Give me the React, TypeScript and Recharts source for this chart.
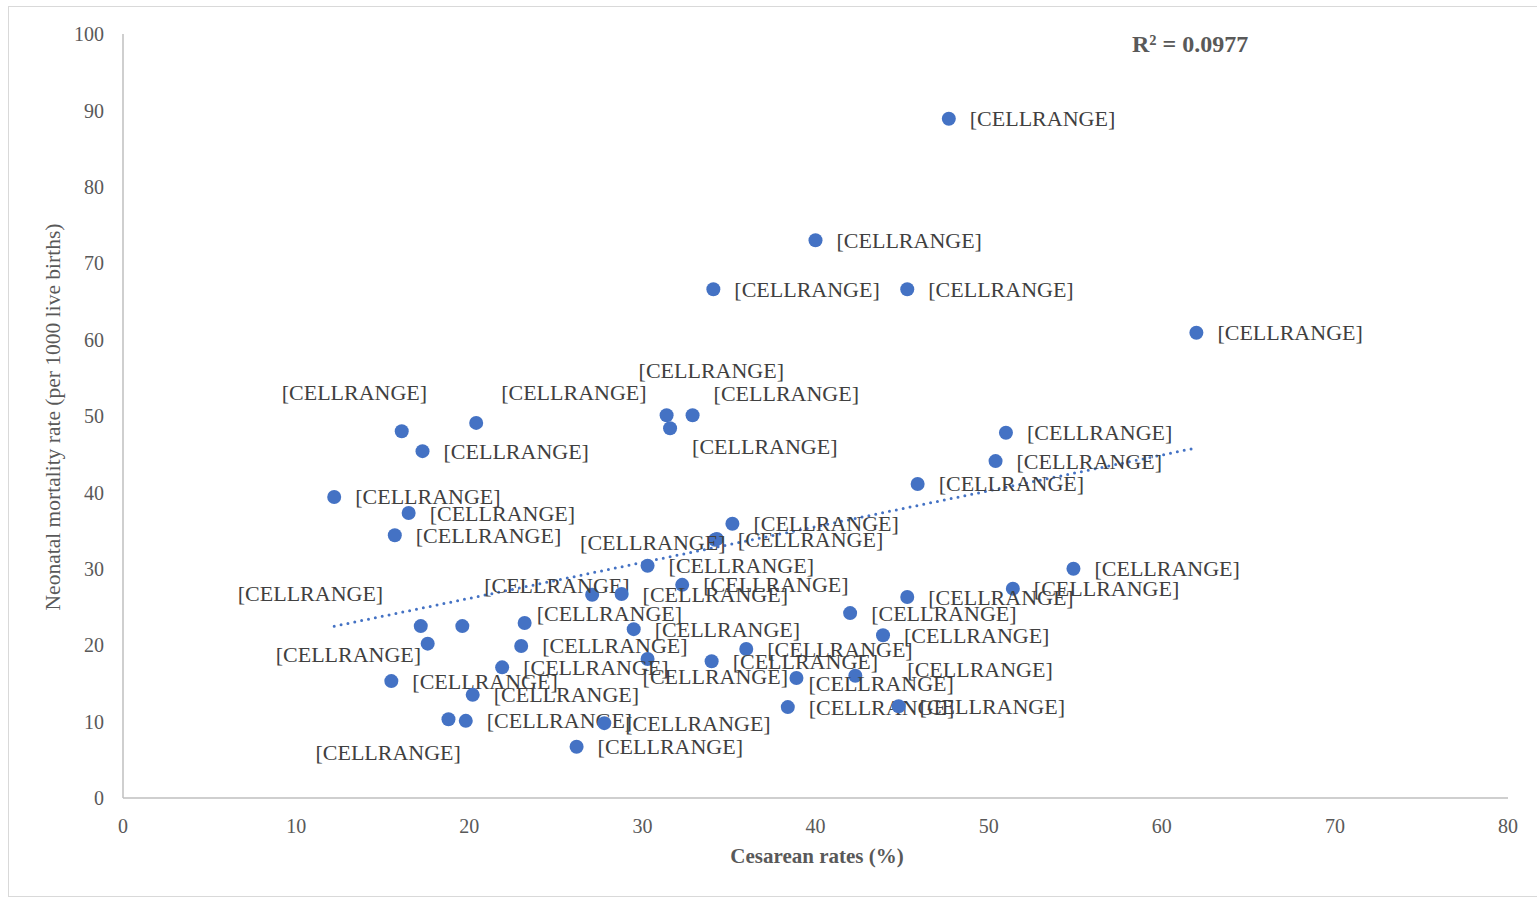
import React from 'react';
import { ScatterChart, Scatter, XAxis, YAxis, ReferenceLine } from 'recharts';

// Cesarean rate (%) and neonatal mortality (per 1000 live births), one pair per point
const CESAREAN = [
  47.7, 40.0, 34.1, 45.3, 62.0, 16.1, 20.4, 17.3, 12.2, 16.5,
  15.7, 31.4, 32.9, 31.6, 51.0, 50.4, 45.9, 35.2, 34.3, 34.2,
  30.3, 32.3, 27.1, 28.8, 54.9, 51.4, 45.3, 42.0, 43.9, 17.2,
  19.6, 23.2, 29.5, 17.6, 23.0, 36.0, 30.3, 34.0, 21.9, 42.3,
  38.9, 15.5, 20.2, 38.4, 44.8, 18.8, 19.8, 27.8, 26.2,
];
const NEONATAL = [
  88.9, 73.0, 66.6, 66.6, 60.9, 48.0, 49.1, 45.4, 39.4, 37.3,
  34.4, 50.1, 50.1, 48.4, 47.8, 44.1, 41.1, 35.9, 33.9, 33.8,
  30.4, 27.9, 26.6, 26.7, 30.0, 27.4, 26.3, 24.2, 21.3, 22.5,
  22.5, 22.9, 22.1, 20.2, 19.9, 19.5, 18.2, 17.9, 17.1, 16.0,
  15.7, 15.3, 13.5, 11.9, 12.0, 10.3, 10.1, 9.8, 6.7,
];
const X_TICKS = [0, 10, 20, 30, 40, 50, 60, 70, 80];
const Y_TICKS = [0, 10, 20, 30, 40, 50, 60, 70, 80, 90, 100];
const LABEL_TEXT = '[CELLRANGE]';
const R2_TEXT = 'R² = 0.0977';

// labels that were dragged away from the default "right" spot (pixel nudges)
const LABEL_NUDGE: Record<number, [number, number] | null> = {
  5: [-120, -39],
  6: [25, -30],
  11: [-28, -45],
  12: [21, -22],
  13: [22, 18],
  19: [-135, 3],
  22: [-108, -9],
  29: [-183, -33],
  30: null,
  31: [12, -10],
  33: [-152, 11],
  36: [-5, 18],
  39: [52, -6],
  40: [12, 5],
  45: [-133, 33],
};

const points = CESAREAN.map((x, i) => ({ x, y: NEONATAL[i], i }));

// linear trendline (least squares), drawn from min to max x like Excel does
const n = points.length;
const mx = CESAREAN.reduce((a, b) => a + b, 0) / n;
const my = NEONATAL.reduce((a, b) => a + b, 0) / n;
const sxy = points.reduce((a, p) => a + (p.x - mx) * (p.y - my), 0);
const sxx = points.reduce((a, p) => a + (p.x - mx) ** 2, 0);
const slope = sxy / sxx;
const icpt = my - slope * mx;
const xMin = Math.min(...CESAREAN);
const xMax = Math.max(...CESAREAN);
const trend = [
  { x: xMin, y: icpt + slope * xMin },
  { x: xMax, y: icpt + slope * xMax },
];

const FONT = '"Liberation Serif", "Times New Roman", serif';
const BLUE = '#4472C4';

const Dot = (props: any) => {
  const { cx, cy, payload } = props;
  const nudge = payload.i in LABEL_NUDGE ? LABEL_NUDGE[payload.i] : [21, 0];
  return (
    <g>
      <circle cx={cx} cy={cy} r={7} fill={BLUE} />
      {nudge && (
        <text
          x={cx + nudge[0]}
          y={cy + nudge[1]}
          dominantBaseline="central"
          fontFamily={FONT}
          fontSize={22}
          fill="#404040"
        >
          {LABEL_TEXT}
        </text>
      )}
    </g>
  );
};

export default function App() {
  return (
    <div style={{ position: 'fixed', inset: 0, overflow: 'hidden', background: '#fff' }}>
      <div
        style={{
          position: 'absolute',
          left: 8,
          top: 6,
          width: 1540,
          height: 891,
          border: '1px solid #d9d9d9',
          boxSizing: 'border-box',
        }}
      >
        <ScatterChart width={1530} height={889} margin={{ top: 27, right: 31, bottom: 58, left: 54 }}>
          <XAxis
            type="number"
            dataKey="x"
            domain={[0, 80]}
            ticks={X_TICKS}
            height={40}
            axisLine={{ stroke: '#bfbfbf', strokeWidth: 1.5 }}
            tickLine={false}
            tickMargin={15}
            tick={{ fill: '#595959', fontSize: 20, fontFamily: FONT }}
          />
          <YAxis
            type="number"
            dataKey="y"
            domain={[0, 100]}
            ticks={Y_TICKS}
            width={60}
            axisLine={{ stroke: '#bfbfbf', strokeWidth: 1.5 }}
            tickLine={false}
            tickMargin={13}
            tick={{ fill: '#595959', fontSize: 20, fontFamily: FONT }}
          />
          <ReferenceLine
            segment={trend}
            stroke={BLUE}
            strokeWidth={3}
            strokeDasharray="0 7"
            strokeLinecap="round"
            ifOverflow="extendDomain"
          />
          <Scatter data={points} shape={<Dot />} isAnimationActive={false} />
        </ScatterChart>
        <div
          style={{
            position: 'absolute',
            left: 1123,
            top: 24,
            fontFamily: FONT,
            fontWeight: 'bold',
            fontSize: 24,
            color: '#595959',
            whiteSpace: 'nowrap',
          }}
        >
          {R2_TEXT}
        </div>
        <div
          style={{
            position: 'absolute',
            left: 0,
            width: 1616,
            top: 837,
            textAlign: 'center',
            fontFamily: FONT,
            fontWeight: 'bold',
            fontSize: 21,
            color: '#595959',
            whiteSpace: 'nowrap',
          }}
        >
          Cesarean rates (%)
        </div>
        <div
          style={{
            position: 'absolute',
            left: 44,
            top: 410,
            width: 0,
            height: 0,
          }}
        >
          <div
            style={{
              position: 'absolute',
              left: 0,
              top: 0,
              transform: 'translate(-50%, -50%) rotate(-90deg)',
              fontFamily: FONT,
              fontSize: 21.5,
              color: '#595959',
              whiteSpace: 'nowrap',
            }}
          >
            Neonatal mortality rate (per 1000 live births)
          </div>
        </div>
      </div>
    </div>
  );
}
